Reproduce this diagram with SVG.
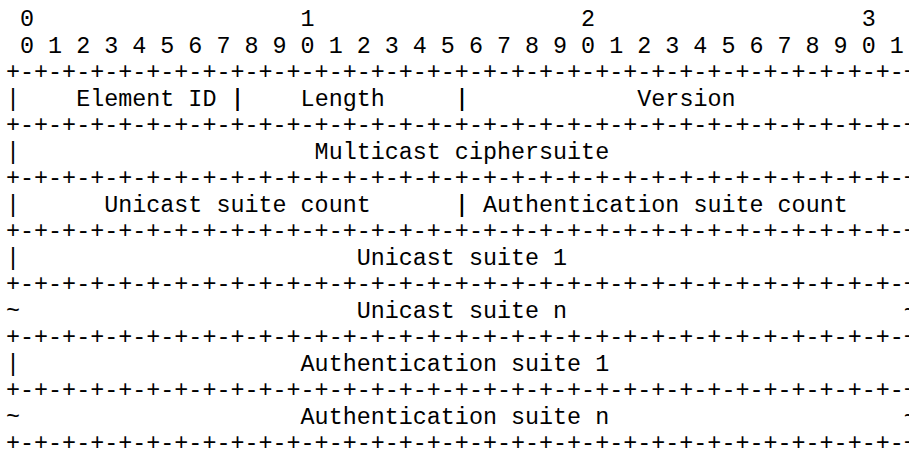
<svg xmlns="http://www.w3.org/2000/svg" width="909" height="461" viewBox="0 0 909 461">
<style>
text{font-family:"Liberation Mono","Courier New",monospace;font-size:23.38px;fill:#000;white-space:pre}
</style>
<rect width="909" height="461" fill="#fff"/>
<g id="ruler">
<text x="6" y="26" xml:space="preserve"> 0                   1                   2                   3</text>
<text x="6" y="52.5" xml:space="preserve"> 0 1 2 3 4 5 6 7 8 9 0 1 2 3 4 5 6 7 8 9 0 1 2 3 4 5 6 7 8 9 0 1</text>
</g>
<g id="connectors">
<text x="6" y="79">+-+-+-+-+-+-+-+-+-+-+-+-+-+-+-+-+-+-+-+-+-+-+-+-+-+-+-+-+-+-+-+-+</text>
<text x="6" y="132">+-+-+-+-+-+-+-+-+-+-+-+-+-+-+-+-+-+-+-+-+-+-+-+-+-+-+-+-+-+-+-+-+</text>
<text x="6" y="185">+-+-+-+-+-+-+-+-+-+-+-+-+-+-+-+-+-+-+-+-+-+-+-+-+-+-+-+-+-+-+-+-+</text>
<text x="6" y="238">+-+-+-+-+-+-+-+-+-+-+-+-+-+-+-+-+-+-+-+-+-+-+-+-+-+-+-+-+-+-+-+-+</text>
<text x="6" y="291">+-+-+-+-+-+-+-+-+-+-+-+-+-+-+-+-+-+-+-+-+-+-+-+-+-+-+-+-+-+-+-+-+</text>
<text x="6" y="344">+-+-+-+-+-+-+-+-+-+-+-+-+-+-+-+-+-+-+-+-+-+-+-+-+-+-+-+-+-+-+-+-+</text>
<text x="6" y="397">+-+-+-+-+-+-+-+-+-+-+-+-+-+-+-+-+-+-+-+-+-+-+-+-+-+-+-+-+-+-+-+-+</text>
<text x="6" y="450">+-+-+-+-+-+-+-+-+-+-+-+-+-+-+-+-+-+-+-+-+-+-+-+-+-+-+-+-+-+-+-+-+</text>
</g>
<g id="element-id"><text x="6" y="105.5" xml:space="preserve">|    Element ID |</text></g>
<g id="length"><text x="230.48" y="105.5" xml:space="preserve">|    Length     |</text></g>
<g id="version"><text x="454.96" y="105.5" xml:space="preserve">|            Version            |</text></g>
<g id="multicast-ciphersuite"><text x="6" y="158.5" xml:space="preserve">|                     Multicast ciphersuite                     |</text></g>
<g id="unicast-suite-count"><text x="6" y="211.5" xml:space="preserve">|      Unicast suite count      |</text></g>
<g id="authentication-suite-count"><text x="454.96" y="211.5" xml:space="preserve">| Authentication suite count    |</text></g>
<g id="unicast-suite-1"><text x="6" y="264.5" xml:space="preserve">|                        Unicast suite 1                        |</text></g>
<g id="unicast-suite-n"><text x="6" y="317.5" xml:space="preserve">~                        Unicast suite n                        ~</text></g>
<g id="authentication-suite-1"><text x="6" y="370.5" xml:space="preserve">|                    Authentication suite 1                     |</text></g>
<g id="authentication-suite-n"><text x="6" y="423.5" xml:space="preserve">~                    Authentication suite n                     ~</text></g>
</svg>
